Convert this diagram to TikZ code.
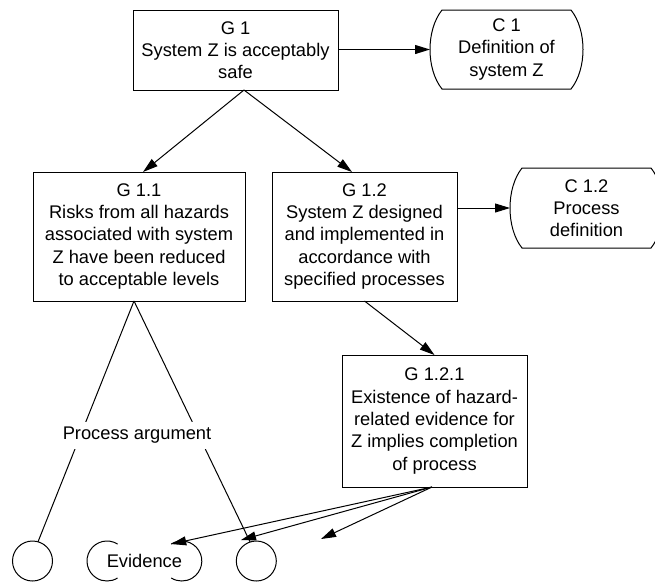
\documentclass[tikz,border=0pt]{standalone}
\usepackage{fontspec}
\setmainfont{Liberation Sans}
\usetikzlibrary{arrows.meta,calc}

\begin{document}
\begin{tikzpicture}[x=1pt,y=-1pt,
  every node/.style={font=\fontsize{18.3}{22.3}\selectfont, align=center,
    inner sep=0pt, outer sep=0pt},
  goal/.style={draw, rectangle, line width=1pt},
  ctxnode/.style={rectangle, minimum width=153pt},
  ctxline/.style={line width=1pt},
  evid/.style={circle, minimum size=40pt},
  link/.style={line width=1pt},
  arr/.style={line width=1pt, -{Triangle[length=15pt,width=9pt]}},
  lbl/.style={fill=white, inner ysep=5pt}
]
\useasboundingbox (0,0) rectangle (655,582);
\clip (0,0) rectangle (655,582);

% goals
\node[goal, minimum width=205pt, minimum height=80pt] (g1) at (235.5,50)
  {G 1\\System Z is acceptably\\safe};
\node[goal, minimum width=212pt, minimum height=129pt] (g11) at (139,236.5)
  {G 1.1\\Risks from all hazards\\associated with system\\Z have been reduced\\to acceptable levels};
\node[goal, minimum width=185pt, minimum height=129pt] (g12) at (364.5,236.5)
  {G 1.2\\System Z designed\\and implemented in\\accordance with\\specified processes};
\node[goal, minimum width=185pt, minimum height=132pt] (g121) at (434.5,421)
  {G 1.2.1\\Existence of hazard-\\related evidence for\\Z implies completion\\of process};

% contexts
\node[ctxnode, minimum height=79pt] (c1) at (506.5,49.5) {C 1\\Definition of\\system Z};
\node[ctxnode, minimum height=80pt] (c12) at (586.5,208) {C 1.2\\Process\\definition};
\foreach \n in {c1,c12} {
  \draw[ctxline] ($(\n.north west)+(12,0)$) -- ($(\n.north east)+(-12,0)$)
    .. controls ($(\n.north east)+(4,20)$) and ($(\n.south east)+(4,-20)$)
    .. ($(\n.south east)+(-12,0)$) -- ($(\n.south west)+(12,0)$)
    .. controls ($(\n.south west)+(-4,-20)$) and ($(\n.north west)+(-4,20)$)
    .. cycle;
}

% evidence row
\node[evid, draw, line width=1pt] (e1) at (32.5,561) {};
\node[evid] (e2) at (107,561) {};
\node[evid] (e3) at (181.8,561) {};
\node[evid, draw, line width=1pt] (e4) at (256.3,561) {};
\draw[link] (e2.58) arc[start angle=58, end angle=302, radius=20pt];
\draw[link] (e3.122) arc[start angle=122, end angle=-122, radius=20pt];
\node (ev) at ($(e2)!0.5!(e3)$) {Evidence};

% connectors
\coordinate (g1foot) at ($(g1.south)+(8.5,0)$);
\coordinate (g11top) at ($(g11.north)+(4,0)$);
\coordinate (g12top) at ($(g12.north)+(-12.5,0)$);
\draw[arr] (g1foot) -- (g11top);
\draw[arr] (g1foot) -- (g12top);
\draw[arr] (g1.east |- c1.west) -- (c1.west);
\draw[arr] (g12.east |- c12.west) -- (c12.west);
\draw[arr] (g12.south) -- (g121.north);

\coordinate (g11foot) at ($(g11.south)+(-5,0)$);
\draw[link] (g11foot) -- (e1.74);
\draw[link] (g11foot) -- (e4.108);
\node[lbl] (pa) at (137,435.5) {Process argument};

\coordinate (g121foot) at ($(g121.south)+(-2.5,0)$);
\coordinate (t2) at ($(e4)+(-15.3,-21)$);
\coordinate (t3) at (321,539);
\draw[arr] (g121foot) -- (e3.122);
\draw[arr] (g121foot) -- (t2);
\draw[arr] (g121foot) -- (t3);
\end{tikzpicture}
\end{document}
